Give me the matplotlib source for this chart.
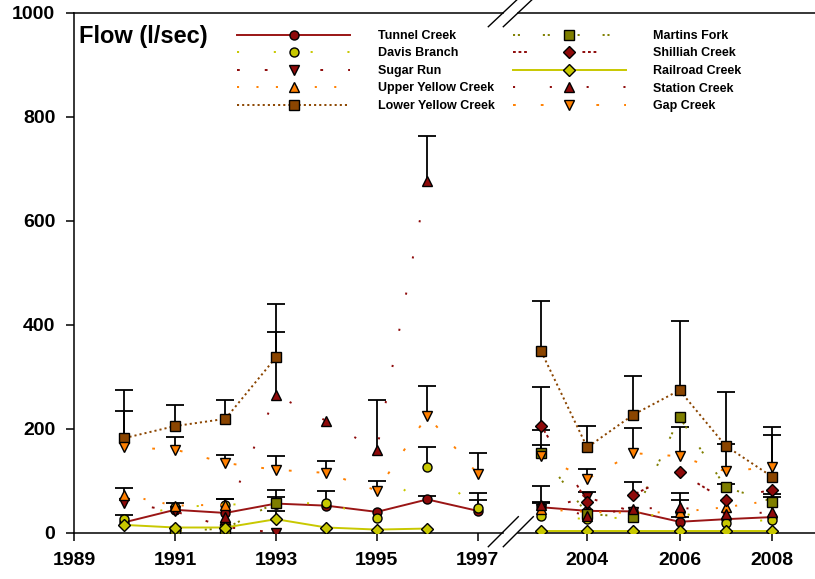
import numpy as np
import matplotlib
matplotlib.use("Agg")
import matplotlib.pyplot as plt
from matplotlib.lines import Line2D

plt.rcParams['font.family'] = ['Liberation Sans', 'DejaVu Sans']
plt.rcParams['font.weight'] = 'bold'
plt.rcParams['lines.scale_dashes'] = False

nan = np.nan
# sampling years: 8 on the left part of the axis, 6 on the right part
years = [1990, 1991, 1992, 1993, 1994, 1995, 1996, 1997,
         2003, 2004, 2005, 2006, 2007, 2008]

# mean flow (l/sec)
tunnel    = [20, 44, 38, 56, 52, 40, 64, 42,     49, 42, 41, 21, 26, 30]
davis     = [26, 49, 54, 56, 57, 28, 126, 47,    33, 26, 30, 39, 18, 25]
sugar     = [58, 41, 11, 0, nan, nan, nan, nan,  45, 68, 40, nan, nan, nan]
upper_yel = [73, 52, 54, nan, nan, nan, nan, nan, 45, 40, 38, 40, 49, 62]
lower_yel = [182, 205, 219, 337, nan, nan, nan, nan, 349, 164, 227, 274, 167, 108]
martins   = [nan, 3, 8, 58, nan, nan, nan, nan,  153, 36, 30, 222, 87, 60]
shilliah  = [nan, nan, nan, nan, nan, nan, nan, nan, 206, 59, 73, 116, 62, 83]
railroad  = [15, 10, 10, 26, 10, 6, 8, nan,      4, 4, 4, 4, 4, 4]
station   = [nan, nan, 31, 265, 215, 159, 677, nan, 54, 33, 46, 49, 36, 39]
gap       = [164, 160, 134, 121, 115, 81, 225, 113, 148, 103, 153, 147, 118, 126]

# upward error (l/sec)
tunnel_err    = [nan, nan, nan, 12, nan, nan, 7, 21,   11, nan, nan, 10, nan, nan]
davis_err     = [8, nan, 10, nan, 24, nan, 38, 29,     24, nan, nan, 24, nan, nan]
sugar_err     = [nan, nan, nan, nan, nan, nan, nan, nan, nan, 11, nan, nan, nan, nan]
upper_yel_err = [13, 6, 10, nan, nan, nan, nan, nan,   nan, nan, nan, nan, nan, 12]
lower_yel_err = [93, 40, 37, 103, nan, nan, nan, nan,  97, 41, 74, 134, 104, 96]
martins_err   = [nan, nan, nan, 25, nan, nan, nan, nan, 16, nan, nan, nan, 7, nan]
shilliah_err  = [nan, nan, nan, nan, nan, nan, nan, nan, 74, nan, 25, nan, nan, nan]
railroad_err  = [nan, nan, nan, 15, nan, nan, nan, nan, nan, nan, nan, nan, nan, nan]
station_err   = [nan, nan, nan, 121, nan, 96, 86, nan,  36, nan, nan, 27, nan, 29]
gap_err       = [71, 25, 15, 26, 22, 18, 57, 41,       49, 20, 49, 57, 53, 61]

names = ['Tunnel Creek', 'Davis Branch', 'Sugar Run', 'Upper Yellow Creek',
         'Lower Yellow Creek', 'Martins Fork', 'Shilliah Creek', 'Railroad Creek',
         'Station Creek', 'Gap Creek']
values = [tunnel, davis, sugar, upper_yel, lower_yel, martins, shilliah,
          railroad, station, gap]
errors = [tunnel_err, davis_err, sugar_err, upper_yel_err, lower_yel_err,
          martins_err, shilliah_err, railroad_err, station_err, gap_err]

red = '#8E0A0A'
ygreen = '#C8C800'
orange = '#FF8000'
brown = '#8B4500'
olive = '#7F7F00'
styles = [
    dict(color='#9A1515', mfc=red, marker='o', ls='-'),
    dict(color=ygreen, mfc=ygreen, marker='o', dashes=(1.5, 25)),
    dict(color=red, mfc=red, marker='v', dashes=(2, 18)),
    dict(color=orange, mfc=orange, marker='^', dashes=(1.5, 12.5)),
    dict(color=brown, mfc=brown, marker='s', dashes=(1.5, 2.2)),
    dict(color=olive, mfc=olive, marker='s', dashes=(1.5, 2, 1.5, 16.5)),
    dict(color=red, mfc=red, marker='D', dashes=(2, 2, 2, 2, 2, 40)),
    dict(color=ygreen, mfc=ygreen, marker='D', ls='-'),
    dict(color=red, mfc=red, marker='^', dashes=(1.5, 25)),
    dict(color=orange, mfc=orange, marker='v', dashes=(2, 18)),
]

W, H = 815, 579
fig = plt.figure(figsize=(W / 100, H / 100), dpi=100)
axL = fig.add_axes([74 / W, 46.3 / H, 429 / W, 520 / H])
axR = fig.add_axes([518 / W, 46.3 / H, 300 / W, 520 / H])

yrs = np.array(years, dtype=float)
parts = [(axL, slice(0, 8)), (axR, slice(8, 14))]
handles = []
for v, e, st, nm in zip(values, errors, styles, names):
    v = np.array(v, dtype=float)
    e = np.array(e, dtype=float)
    for ax, sl in parts:
        x, y, err = yrs[sl], v[sl], e[sl]
        ok = ~np.isnan(err) & ~np.isnan(y)
        ax.vlines(x[ok], y[ok], y[ok] + err[ok], color='black', lw=1.3, zorder=2)
        ax.plot(x[ok], y[ok] + err[ok], ls='none', marker='_', ms=12.7,
                mew=1.3, color='black', zorder=2)
        ln, = ax.plot(x, y, lw=1.4, ms=6.5, mec='black', mew=1.0, zorder=3,
                      label=nm, **st)
        if ax is axL:
            handles.append(ln)

for ax in (axL, axR):
    ax.set_ylim(0, 1000)
    ax.spines['right'].set_visible(False)
    for s in ('top', 'bottom', 'left'):
        ax.spines[s].set_linewidth(1.1)
    ax.tick_params(direction='out', length=6, width=1.1, labelsize=14, pad=7.5)
    ax.tick_params(axis='x', pad=8)
    ax.set_facecolor('none')

axL.set_xlim(1989, 1997.5)
axL.set_xticks([1989, 1991, 1993, 1995, 1997])
axL.set_yticks(range(0, 1001, 200))
axR.set_xlim(2002.5, 2009)
axR.set_xticks([2004, 2006, 2008])
axR.set_yticks([])
axR.spines['left'].set_visible(False)

# axis break marks
for x0 in (488.3, 503.3):
    fig.add_artist(Line2D([x0 / W, (x0 + 30) / W], [1 - 546.7 / H, 1 - 516.7 / H],
                          color='black', lw=1.0))
    fig.add_artist(Line2D([x0 / W, (x0 + 28.4) / W], [1 - 26.7 / H, 1.0],
                          color='black', lw=1.0))

fig.text(79 / W, 1 - 43.5 / H, 'Flow (l/sec)', fontsize=17, fontweight='bold',
         va='baseline', ha='left')

fig.legend(handles=handles, ncol=2, loc='upper left',
           bbox_to_anchor=(237 / W, 1 - 30 / H), frameon=False,
           prop={'size': 9, 'weight': 'bold'}, numpoints=1,
           handlelength=9.05, handletextpad=2.2, columnspacing=1.45,
           labelspacing=0.44, borderpad=0, borderaxespad=0)

fig.savefig('out.png', dpi=100)
